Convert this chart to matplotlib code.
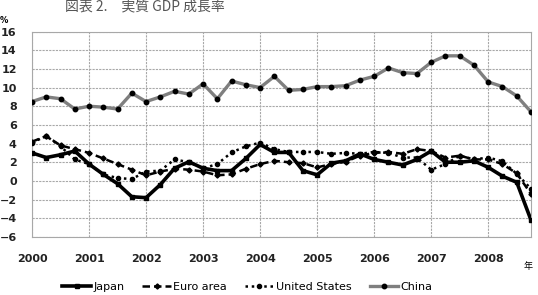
import matplotlib.pyplot as plt
import numpy as np

# Data: quarterly real GDP growth (%), 2000Q1 - 2008Q4
quarters = 2000 + np.arange(36) * 0.25

japan = [3.0, 2.5, 2.8, 3.2, 1.8, 0.7, -0.3, -1.7, -1.8, -0.4, 1.35, 2.05,
         1.35, 1.1, 1.1, 2.4, 3.9, 3.05, 3.05, 1.1, 0.65, 1.9, 2.15, 2.9,
         2.3, 2.0, 1.7, 2.3, 3.2, 2.0, 2.0, 2.15, 1.45, 0.5, -0.15, -4.2]
euro_area = [4.2, 4.8, 3.8, 3.4, 3.0, 2.4, 1.8, 1.2, 0.6, 1.0, 1.3, 1.2,
             1.0, 0.6, 0.7, 1.3, 1.8, 2.15, 2.0, 1.9, 1.45, 1.8, 2.05, 2.7,
             3.0, 3.1, 2.9, 3.4, 3.2, 2.5, 2.7, 2.3, 2.3, 1.8, 0.8, -1.4]
united_states = [4.1, 4.8, 3.7, 2.3, 1.8, 0.7, 0.3, 0.2, 1.0, 1.1, 2.3, 2.0,
                 1.35, 1.8, 3.05, 3.7, 4.1, 3.4, 3.1, 3.1, 3.1, 2.9, 3.0, 2.9,
                 3.1, 3.0, 2.5, 2.5, 1.2, 1.8, 2.7, 2.3, 2.5, 2.1, 0.75, -0.85]
china = [8.5, 9.0, 8.8, 7.7, 8.0, 7.9, 7.7, 9.4, 8.5, 9.0, 9.6, 9.3,
         10.4, 8.8, 10.7, 10.3, 10.0, 11.2, 9.7, 9.8, 10.1, 10.1, 10.2, 10.8,
         11.2, 12.1, 11.6, 11.5, 12.7, 13.4, 13.4, 12.4, 10.6, 10.1, 9.1, 7.4]

year_ticks = list(range(2000, 2009))
y_ticks = list(range(-6, 17, 2))

plt.rcParams['font.family'] = ['DejaVu Sans', 'Noto Sans CJK JP']

fig = plt.figure(figsize=(5.38, 2.95), dpi=100)
ax = fig.add_axes([0.0595, 0.197, 0.9275, 0.696])

ax.plot(quarters, japan, color='black', lw=2.6, marker='s', ms=3.2, label='Japan', zorder=5)
ax.plot(quarters, euro_area, color='black', lw=1.8, ls=(0, (3, 1.6)), marker='D', ms=2.6,
        label='Euro area', zorder=4)
ax.plot(quarters, united_states, color='black', lw=1.8, ls=(0, (1, 1.5)), marker='o', ms=3,
        label='United States', zorder=4)
ax.plot(quarters, china, color='#7f7f7f', lw=2.4, marker='o', ms=3.2, mfc='black', mec='black',
        label='China', zorder=3)

ax.set_xlim(2000, 2008.75)
ax.set_ylim(-6, 16)
ax.set_xticks(year_ticks)
ax.set_yticks(y_ticks)
ax.grid(True, color='#a8a8a8', lw=0.8, ls=(0, (2, 1)))
for s in ax.spines.values():
    s.set_color('#a8a8a8')
    s.set_linewidth(0.8)
ax.tick_params(length=0, labelsize=8, pad=12)
ax.tick_params(axis='y', pad=11)
for lab in ax.get_xticklabels() + ax.get_yticklabels():
    lab.set_fontweight('bold')
    lab.set_color('#222222')

fig.text(0.12, 0.978, '図表 2.　実質 GDP 成長率', fontsize=10, color='#555555',
         va='center', ha='left', family=['Noto Sans CJK JP'])
fig.text(0.0, 0.93, '%', fontsize=6, fontweight='bold', va='center', ha='left')
fig.text(0.982, 0.095, '年', fontsize=6.5, va='center', ha='center',
         family=['Noto Sans CJK JP'])

fig.legend(loc='center', bbox_to_anchor=(0.46, 0.028), ncol=4, frameon=False,
           fontsize=8, handlelength=2.6, columnspacing=1.6, handletextpad=0.2)

fig.savefig('out.png', dpi=100)
